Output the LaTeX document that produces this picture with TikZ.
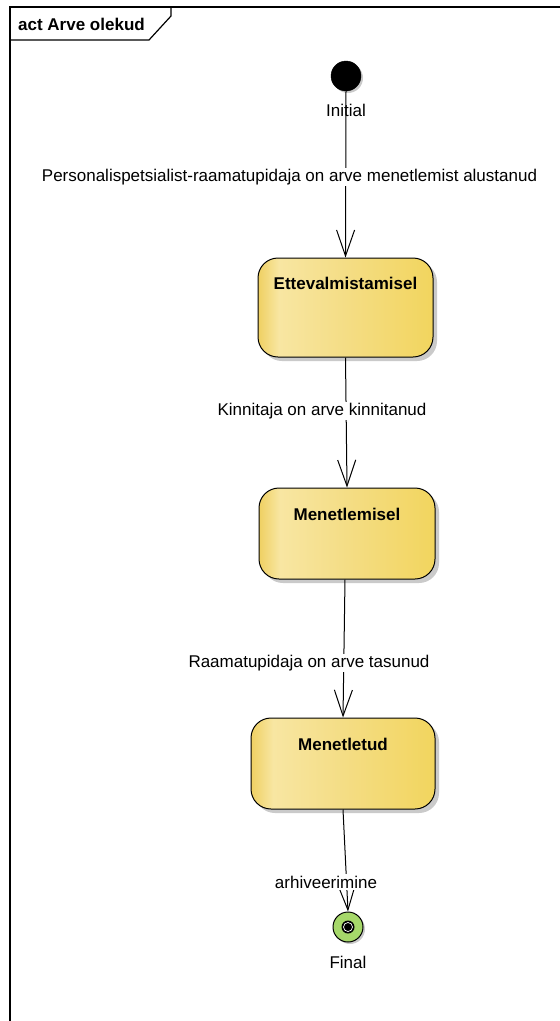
\documentclass[tikz,border=0pt]{standalone}
\usepackage{fontspec}
\setmainfont{Liberation Sans}
\usetikzlibrary{arrows.meta,shadows}
\definecolor{stA}{HTML}{EFD062}
\definecolor{stB}{HTML}{F8E6A2}
\definecolor{stC}{HTML}{F4DD85}
\definecolor{stD}{HTML}{F2D55E}
\definecolor{finalgreen}{HTML}{A6D86A}
\pgfdeclarehorizontalshading{statefill}{100bp}{color(0bp)=(stA); color(25bp)=(stA); color(31bp)=(stB); color(50bp)=(stC); color(75bp)=(stD); color(100bp)=(stD)}
\tikzset{
  every node/.style={font=\fontsize{17}{20}\selectfont},
  statebox/.style={draw=black, line width=1pt, rounded corners=20pt, shading=statefill,
    drop shadow={shadow xshift=4pt, shadow yshift=-4pt, fill=black!35, opacity=0.6}},
  statetext/.style={font=\fontsize{17}{20}\selectfont\bfseries, inner sep=0pt},
  trans/.style={draw=black, line width=1pt, -{Straight Barb[length=26pt,width=18pt,line width=1pt]}},
  translabel/.style={fill=white, inner sep=1.5pt},
  plain/.style={inner sep=0pt},
}
\begin{document}
\begin{tikzpicture}[x=1pt,y=-1pt]
\useasboundingbox (0,0) rectangle (560,1021);
% frame
\draw[line width=1.2pt] (10,1021) -- (10,7) -- (560,7);
\draw[line width=1.2pt] (10,40) -- (149,40) -- (171,16) -- (171,7);
\node[statetext, anchor=west] (title) at (18,24) {act Arve olekud};
% initial
\node[circle, fill=black, draw=black, minimum size=30pt, inner sep=0pt,
  drop shadow={shadow xshift=2pt, shadow yshift=-2pt, fill=black!35, opacity=0.6}] (init) at (346,76) {};
\node[plain] (initlab) at (346,110) {Initial};
% states
\node[statebox, minimum width=175pt, minimum height=99pt, inner sep=0pt] (s1) at (345.5,307.5) {};
\node[statetext] (s1t) at ([yshift=-26pt]s1.north) {Ettevalmistamisel};
\node[statebox, minimum width=176pt, minimum height=91pt, inner sep=0pt] (s2) at (347,533.5) {};
\node[statetext] (s2t) at ([yshift=-27pt]s2.north) {Menetlemisel};
\node[statebox, minimum width=184pt, minimum height=91pt, inner sep=0pt] (s3) at (343,763.5) {};
\node[statetext] (s3t) at ([yshift=-27pt]s3.north) {Menetletud};
% final
\node[circle, fill=finalgreen, draw=black, line width=1pt, minimum size=30pt, inner sep=0pt,
  drop shadow={shadow xshift=2pt, shadow yshift=-2pt, fill=black!35, opacity=0.6}] (fin) at (348,927) {};
\node[circle, fill=black, minimum size=13pt, inner sep=0pt] (finc) at (fin.center) {};
\draw[white, line width=0.7pt] (fin.center) circle (4.5pt);
\node[plain] (finlab) at (348,962) {Final};
% transitions
\draw[trans] (init.south) -- (s1.north);
\draw[trans] (s1.south) -- (s2.north);
\draw[trans] ([xshift=-2pt]s2.south) -- (s3.north);
\draw[trans] (s3.south) -- (fin.north);
% labels
\node[translabel] (l1) at (289.5,177) {Personalispetsialist-raamatupidaja on arve menetlemist alustanud};
\node[translabel] (l2) at (322,411) {Kinnitaja on arve kinnitanud};
\node[translabel] (l3) at (309,663) {Raamatupidaja on arve tasunud};
\node[translabel] (l4) at (326,882) {arhiveerimine};
\end{tikzpicture}
\end{document}
